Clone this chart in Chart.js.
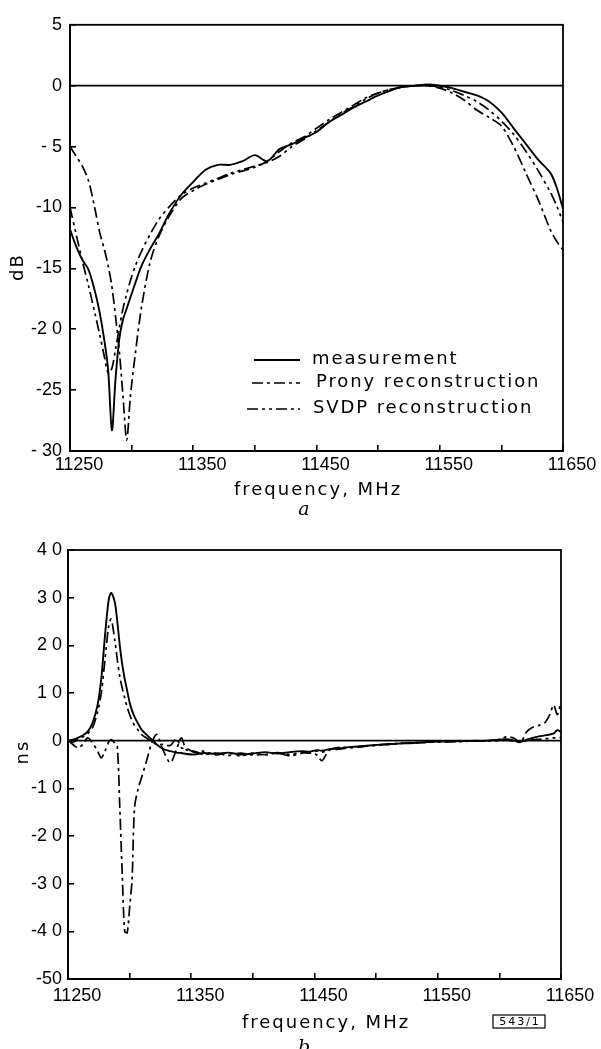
<!DOCTYPE html>
<html><head><meta charset="utf-8">
<script src="https://cdn.jsdelivr.net/npm/chart.js@4.4.1/dist/chart.umd.min.js"></script>
<style>
html,body{margin:0;padding:0;background:#fff;}
#wrap{position:relative;width:601px;height:1049px;overflow:hidden;background:#fff;}
#c1{position:absolute;left:0;top:0;width:601px;height:520px;}
#c2{position:absolute;left:0;top:520px;width:601px;height:529px;}
</style></head><body>
<div id="wrap"><canvas id="c1" width="601" height="520"></canvas><canvas id="c2" width="601" height="529"></canvas></div>
<script>
// ---------- data ----------
const seriesNames = ['measurement', 'Prony reconstruction', 'SVDP reconstruction'];
const xTickLabels = [11250, 11350, 11450, 11550, 11650];

// (a) amplitude, dB
const freqA = [11250,11255,11260,11265,11270,11274,11278,11281,11284,11287,11290,11293,11296,11299,11303,11308,11315,11322,11330,
  11340,11350,11360,11370,11380,11390,11400,11410,11420,11430,11440,11450,11460,11470,11480,11490,11500,11510,11520,11530,11540,
  11550,11560,11570,11580,11590,11600,11610,11620,11630,11640,11645,11650];
const measA = [-11.8,-13.2,-14.3,-15.1,-16.8,-18.6,-21.0,-23.4,-28.3,-24.0,-20.8,-19.2,-18.3,-17.4,-16.2,-14.8,-13.4,-12.2,-10.6,
  -9.0,-7.9,-6.9,-6.5,-6.5,-6.2,-5.7,-6.2,-5.2,-4.8,-4.3,-3.8,-3.0,-2.4,-1.8,-1.3,-0.8,-0.4,-0.1,0,0.1,
  0,-0.2,-0.5,-0.8,-1.3,-2.2,-3.5,-4.8,-6.1,-7.2,-8.4,-10.1];
const pronyA = [-5.0,-5.8,-6.6,-7.8,-10.0,-12.0,-13.5,-14.8,-16.5,-19.0,-21.8,-25.5,-29.1,-25.5,-22.0,-18.2,-14.5,-12.4,-10.8,
  -9.3,-8.6,-8.1,-7.7,-7.3,-7.0,-6.7,-6.2,-5.4,-4.7,-4.2,-3.5,-2.8,-2.2,-1.6,-1.0,-0.6,-0.3,-0.1,0,0,
  -0.2,-0.6,-1.2,-2.0,-2.6,-3.3,-5.0,-7.2,-9.4,-11.9,-12.8,-13.5];
const svdpA = [-10.0,-12.2,-14.4,-16.4,-18.6,-20.4,-22.3,-23.6,-23.2,-21.6,-19.9,-18.3,-17.1,-16.0,-14.8,-13.6,-12.2,-11.0,-10.0,
  -9.0,-8.4,-8.0,-7.6,-7.2,-6.9,-6.6,-6.3,-5.8,-5.0,-4.4,-3.7,-3.0,-2.3,-1.7,-1.1,-0.6,-0.3,-0.1,0,0,
  -0.1,-0.4,-0.8,-1.3,-2.0,-2.9,-4.0,-5.4,-7.0,-8.8,-9.9,-11.2];
const yTickValsA = [5, 0, -5, -10, -15, -20, -25, -30];
const yTickTextA = ['5', '0', '- 5', '-10', '-15', '-2 0', '-25', '- 30'];

// (b) group delay, ns
const freqB = [11250,11254,11258,11262,11266,11270,11274,11277,11280,11283,11285,11288,11290,11292,11294,11296,11298,11300,11302,11304,
  11307,11310,11314,11318,11322,11327,11333,11338,11342,11346,11352,11360,11370,11380,11390,11400,11410,11420,11430,11440,
  11446,11452,11456,11462,11470,11480,11490,11500,11510,11520,11530,11540,11550,11560,11570,11580,11590,11600,11606,11612,
  11617,11622,11627,11632,11637,11641,11644,11647,11650];
const measB = [0,0.2,0.6,1.1,1.9,3.8,7.5,13,22,29.5,31,29,25,20,16,13,10.5,8,6.3,5,
  3.5,2.2,1.2,0.2,-0.8,-1.7,-2.2,-2.5,-2.6,-2.8,-2.9,-2.6,-2.8,-2.5,-2.9,-2.7,-2.4,-2.7,-2.4,-2.2,
  -2.3,-2.0,-2.1,-1.8,-1.6,-1.3,-1.1,-0.9,-0.7,-0.6,-0.5,-0.3,-0.2,-0.2,-0.1,-0.1,0,0.2,0.3,0,
  -0.3,0.2,0.6,0.9,1.1,1.3,1.5,2.2,1.8];
const pronyB = [0,-0.8,-1.5,-0.8,0.6,-0.5,-2.2,-3.6,-2.2,-0.3,0.2,-0.5,-1.2,-13.8,-28,-40,-40.3,-35,-29,-14,
  -10,-7.5,-4,-0.4,1.3,-1.9,-4.6,-1.9,0.6,-1.9,-2.2,-2.9,-2.6,-3.1,-2.6,-3.0,-2.9,-2.6,-3.2,-2.6,
  -2.5,-3.0,-4.2,-2.0,-1.8,-1.4,-1.2,-0.9,-0.8,-0.5,-0.5,-0.3,-0.3,-0.2,-0.1,-0.1,0,0.3,0.8,0.5,
  -0.4,1.8,2.8,3.2,3.8,5.5,7.5,5.5,8];
const svdpB = [0,-0.3,0.2,0.8,1.5,2.8,6,10,17,24,25.5,21,17,13.5,11,9,7,5.5,4.2,3.2,
  2.2,1.2,0.5,-0.2,-0.8,-0.8,-1,0.4,-1.5,-1.6,-2.4,-2.2,-3.0,-2.6,-3.2,-2.6,-3.0,-2.5,-2.9,-2.4,
  -2.6,-2.2,-2.4,-1.9,-1.4,-1.5,-1.2,-1.0,-0.8,-0.6,-0.4,-0.4,-0.2,-0.1,-0.2,0,-0.1,0,0.1,-0.1,
  -0.3,0,0.2,0.3,0.4,0.5,0.6,0.6,0.7];
const yTickValsB = [40, 30, 20, 10, 0, -10, -20, -30, -40, -50];
const yTickTextB = ['4 0', '3 0', '2 0', '1 0', '0', '-1 0', '-2 0', '-3 0', '-4 0', '-50'];

// ---------- styles ----------
const styles = [
  { borderDash: [], borderWidth: 1.9 },
  { borderDash: [11, 4, 3, 4], borderWidth: 1.7 },
  { borderDash: [11, 4, 3, 4, 3, 4], borderWidth: 1.7 }
];
const TICK_FONT = { family: '"Liberation Sans", Arial, sans-serif', size: 18 };
const TEXT_FONT = '"DejaVu Sans", sans-serif';

function makeDatasets(freq, arrs) {
  return arrs.map((vals, i) => ({
    label: seriesNames[i],
    data: freq.map((f, k) => ({ x: f, y: vals[k] })),
    borderColor: '#000',
    borderWidth: styles[i].borderWidth,
    borderDash: styles[i].borderDash,
    pointRadius: 0,
    tension: 0.3,
    fill: false
  }));
}

const framePlugin = {
  id: 'frame',
  afterDatasetsDraw(chart) {
    const { ctx, chartArea: a, scales } = chart;
    ctx.save();
    ctx.strokeStyle = '#000';
    ctx.lineWidth = 1.8;
    ctx.setLineDash([]);
    ctx.strokeRect(a.left, a.top, a.right - a.left, a.bottom - a.top);
    const y0 = scales.y.getPixelForValue(0);
    ctx.beginPath();
    ctx.moveTo(a.left, y0);
    ctx.lineTo(a.right, y0);
    ctx.stroke();
    ctx.restore();
  }
};

function textPlugin(cfg) {
  return {
    id: 'texts',
    afterDraw(chart) {
      const ctx = chart.ctx;
      ctx.save();
      ctx.fillStyle = '#000';
      ctx.strokeStyle = '#000';
      ctx.textBaseline = 'middle';
      // y unit
      ctx.save();
      ctx.font = '18px ' + TEXT_FONT;
      ctx.letterSpacing = '2px';
      ctx.translate(cfg.unitX, cfg.unitY);
      ctx.rotate(-Math.PI / 2);
      ctx.textAlign = 'center';
      ctx.fillText(cfg.unit, 0, 0);
      ctx.restore();
      // x title
      ctx.font = '18px ' + TEXT_FONT;
      ctx.letterSpacing = '2px';
      ctx.textAlign = 'center';
      ctx.fillText(cfg.xTitle, cfg.xTitleX, cfg.xTitleY);
      // panel letter
      ctx.letterSpacing = '0px';
      ctx.font = 'italic 19px "DejaVu Serif", serif';
      ctx.fillText(cfg.letter, cfg.letterX, cfg.letterY);
      // legend
      if (cfg.legend) {
        chart.data.datasets.forEach((ds, i) => {
          const r = cfg.legend[i];
          ctx.save();
          ctx.lineWidth = ds.borderWidth;
          ctx.setLineDash(ds.borderDash || []);
          ctx.beginPath();
          ctx.moveTo(r.x1, r.y);
          ctx.lineTo(r.x2, r.y);
          ctx.stroke();
          ctx.restore();
          ctx.font = '18px ' + TEXT_FONT;
          ctx.letterSpacing = '1.9px';
          ctx.textAlign = 'left';
          ctx.fillText(ds.label, r.tx, r.y - 1);
        });
      }
      // figure code box
      if (cfg.code) {
        ctx.setLineDash([]);
        ctx.lineWidth = 1.2;
        ctx.strokeRect(cfg.code.x, cfg.code.y, cfg.code.w, cfg.code.h);
        ctx.font = '11px ' + TEXT_FONT;
        ctx.letterSpacing = '2px';
        ctx.textAlign = 'center';
        ctx.fillText(cfg.code.text, cfg.code.x + cfg.code.w / 2 + 1, cfg.code.y + cfg.code.h / 2 + 1);
      }
      ctx.restore();
    }
  };
}

function makeOptions(p) {
  return {
    responsive: false,
    animation: false,
    devicePixelRatio: 1,
    layout: { padding: { left: 0, right: p.padRight, top: p.padTop, bottom: 0 } },
    plugins: { legend: { display: false }, tooltip: { enabled: false } },
    scales: {
      x: {
        type: 'linear',
        min: 11250, max: 11650,
        afterFit: s => { s.height = p.xHeight; },
        afterBuildTicks: s => {
          const t = [];
          for (let v = 11250; v <= 11650; v += 50) t.push({ value: v });
          s.ticks = t;
        },
        ticks: {
          autoSkip: false,
          maxRotation: 0,
          color: '#000',
          font: TICK_FONT,
          padding: p.xPad,
          labelOffset: 9,
          callback: v => (xTickLabels.includes(v) ? String(v) : '')
        },
        grid: { drawOnChartArea: false, drawTicks: true, tickLength: -6, color: '#000', lineWidth: 1.6 },
        border: { display: true, color: '#000', width: 1.8 }
      },
      y: {
        type: 'linear',
        min: p.yMin, max: p.yMax,
        afterFit: s => { s.width = p.yWidth; },
        afterBuildTicks: s => { s.ticks = p.yVals.map(v => ({ value: v })); },
        ticks: {
          autoSkip: false,
          color: '#000',
          font: TICK_FONT,
          padding: p.yPad,
          callback: v => { const k = p.yVals.indexOf(v); return k >= 0 ? p.yText[k] : ''; }
        },
        grid: { drawOnChartArea: false, drawTicks: true, tickLength: -6, color: '#000', lineWidth: 1.6 },
        border: { display: true, color: '#000', width: 1.8 }
      }
    }
  };
}

new Chart(document.getElementById('c1'), {
  type: 'line',
  data: { datasets: makeDatasets(freqA, [measA, pronyA, svdpA]) },
  options: makeOptions({ padRight: 38, padTop: 22, xHeight: 69, yWidth: 70, xPad: 9, yPad: 14,
    yMin: -30, yMax: 5, yVals: yTickValsA, yText: yTickTextA }),
  plugins: [framePlugin, textPlugin({
    unit: 'dB', unitX: 18, unitY: 267,
    xTitle: 'frequency, MHz', xTitleX: 318, xTitleY: 490,
    letter: 'a', letterX: 304, letterY: 510,
    legend: [
      { y: 360, x1: 254, x2: 300, tx: 312 },
      { y: 383, x1: 252, x2: 300, tx: 316 },
      { y: 409, x1: 247, x2: 300, tx: 313 }
    ]
  })]
});

new Chart(document.getElementById('c2'), {
  type: 'line',
  data: { datasets: makeDatasets(freqB, [measB, pronyB, svdpB]) },
  options: makeOptions({ padRight: 40, padTop: 30, xHeight: 70, yWidth: 68, xPad: 12, yPad: 12,
    yMin: -50, yMax: 40, yVals: yTickValsB, yText: yTickTextB }),
  plugins: [framePlugin, textPlugin({
    unit: 'ns', unitX: 23, unitY: 232,
    xTitle: 'frequency, MHz', xTitleX: 326, xTitleY: 503,
    letter: 'b', letterX: 304, letterY: 528,
    code: { x: 493, y: 495, w: 52, h: 13, text: '543/1' }
  })]
});
</script>
</body></html>
